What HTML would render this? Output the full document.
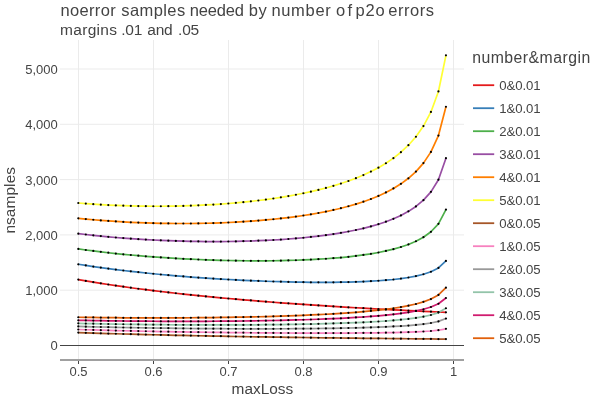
<!DOCTYPE html><html><head><meta charset="utf-8"><title>plot</title><style>html,body{margin:0;padding:0;background:#fff}svg{display:block;will-change:transform}text{font-family:"Liberation Sans", sans-serif;fill:#444}</style></head><body>
<svg width="600" height="400" viewBox="0 0 600 400">
<rect width="600" height="400" fill="#fff"/>
<g stroke="#ebebeb" stroke-width="1">
<line x1="78.5" y1="40" x2="78.5" y2="360"/>
<line x1="153.5" y1="40" x2="153.5" y2="360"/>
<line x1="228.5" y1="40" x2="228.5" y2="360"/>
<line x1="303.5" y1="40" x2="303.5" y2="360"/>
<line x1="378.5" y1="40" x2="378.5" y2="360"/>
<line x1="453.5" y1="40" x2="453.5" y2="360"/>
<line x1="60" y1="290.2" x2="464" y2="290.2"/>
<line x1="60" y1="234.9" x2="464" y2="234.9"/>
<line x1="60" y1="179.60000000000002" x2="464" y2="179.60000000000002"/>
<line x1="60" y1="124.30000000000001" x2="464" y2="124.30000000000001"/>
<line x1="60" y1="69.0" x2="464" y2="69.0"/>
</g>
<line x1="60" y1="345.5" x2="464" y2="345.5" stroke="#444" stroke-width="1"/>
<g fill="none" stroke-width="1.7" stroke-linejoin="round">
<path d="M78.30,279.59L85.80,280.89L93.31,282.14L100.81,283.34L108.31,284.50L115.82,285.61L123.32,286.69L130.82,287.72L138.32,288.73L145.83,289.69L153.33,290.63L160.83,291.53L168.34,292.41L175.84,293.26L183.34,294.08L190.85,294.87L198.35,295.64L205.85,296.39L213.35,297.12L220.86,297.82L228.36,298.51L235.86,299.18L243.37,299.82L250.87,300.45L258.37,301.07L265.88,301.66L273.38,302.24L280.88,302.81L288.38,303.36L295.89,303.90L303.39,304.42L310.89,304.93L318.40,305.43L325.90,305.92L333.40,306.39L340.91,306.86L348.41,307.31L355.91,307.75L363.41,308.18L370.92,308.61L378.42,309.02L385.92,309.42L393.43,309.82L400.93,310.21L408.43,310.58L415.93,310.95L423.44,311.32L430.94,311.67L438.44,312.02L445.95,312.36" stroke="#E41A1C"/>
<path d="M78.30,264.28L85.80,265.44L93.31,266.54L100.81,267.60L108.31,268.61L115.82,269.57L123.32,270.49L130.82,271.36L138.32,272.20L145.83,272.99L153.33,273.75L160.83,274.48L168.34,275.16L175.84,275.82L183.34,276.44L190.85,277.03L198.35,277.58L205.85,278.11L213.35,278.60L220.86,279.07L228.36,279.50L235.86,279.91L243.37,280.29L250.87,280.63L258.37,280.95L265.88,281.24L273.38,281.49L280.88,281.72L288.38,281.91L295.89,282.07L303.39,282.19L310.89,282.28L318.40,282.32L325.90,282.33L333.40,282.28L340.91,282.19L348.41,282.05L355.91,281.84L363.41,281.56L370.92,281.20L378.42,280.75L385.92,280.18L393.43,279.48L400.93,278.61L408.43,277.51L415.93,276.11L423.44,274.27L430.94,271.73L438.44,267.91L445.95,260.96" stroke="#377EB8"/>
<path d="M78.30,248.96L85.80,249.98L93.31,250.95L100.81,251.86L108.31,252.72L115.82,253.53L123.32,254.29L130.82,255.00L138.32,255.67L145.83,256.30L153.33,256.88L160.83,257.42L168.34,257.92L175.84,258.38L183.34,258.80L190.85,259.18L198.35,259.52L205.85,259.82L213.35,260.09L220.86,260.31L228.36,260.50L235.86,260.65L243.37,260.75L250.87,260.81L258.37,260.84L265.88,260.81L273.38,260.74L280.88,260.63L288.38,260.46L295.89,260.24L303.39,259.96L310.89,259.62L318.40,259.21L325.90,258.74L333.40,258.18L340.91,257.53L348.41,256.78L355.91,255.92L363.41,254.94L370.92,253.80L378.42,252.48L385.92,250.94L393.43,249.15L400.93,247.01L408.43,244.44L415.93,241.26L423.44,237.22L430.94,231.78L438.44,223.80L445.95,209.56" stroke="#4DAF4A"/>
<path d="M78.30,233.64L85.80,234.52L93.31,235.35L100.81,236.12L108.31,236.83L115.82,237.48L123.32,238.09L130.82,238.64L138.32,239.14L145.83,239.60L153.33,240.00L160.83,240.36L168.34,240.67L175.84,240.94L183.34,241.16L190.85,241.33L198.35,241.46L205.85,241.54L213.35,241.57L220.86,241.56L228.36,241.49L235.86,241.38L243.37,241.21L250.87,241.00L258.37,240.72L265.88,240.39L273.38,240.00L280.88,239.54L288.38,239.01L295.89,238.41L303.39,237.73L310.89,236.97L318.40,236.11L325.90,235.15L333.40,234.07L340.91,232.87L348.41,231.52L355.91,230.01L363.41,228.31L370.92,226.39L378.42,224.21L385.92,221.71L393.43,218.81L400.93,215.42L408.43,211.37L415.93,206.42L423.44,200.17L430.94,191.84L438.44,179.69L445.95,158.16" stroke="#984EA3"/>
<path d="M78.30,218.32L85.80,219.07L93.31,219.75L100.81,220.38L108.31,220.94L115.82,221.44L123.32,221.89L130.82,222.28L138.32,222.62L145.83,222.90L153.33,223.13L160.83,223.31L168.34,223.43L175.84,223.50L183.34,223.52L190.85,223.48L198.35,223.40L205.85,223.25L213.35,223.06L220.86,222.80L228.36,222.49L235.86,222.11L243.37,221.68L250.87,221.18L258.37,220.61L265.88,219.96L273.38,219.25L280.88,218.45L288.38,217.56L295.89,216.58L303.39,215.50L310.89,214.31L318.40,213.00L325.90,211.56L333.40,209.96L340.91,208.21L348.41,206.26L355.91,204.10L363.41,201.69L370.92,198.99L378.42,195.94L385.92,192.47L393.43,188.47L400.93,183.82L408.43,178.29L415.93,171.57L423.44,163.12L430.94,151.89L438.44,135.58L445.95,106.76" stroke="#FF7F00"/>
<path d="M78.30,203.00L85.80,203.61L93.31,204.16L100.81,204.63L108.31,205.05L115.82,205.40L123.32,205.69L130.82,205.92L138.32,206.09L145.83,206.20L153.33,206.25L160.83,206.25L168.34,206.18L175.84,206.06L183.34,205.88L190.85,205.64L198.35,205.33L205.85,204.97L213.35,204.54L220.86,204.05L228.36,203.48L235.86,202.85L243.37,202.14L250.87,201.36L258.37,200.49L265.88,199.54L273.38,198.50L280.88,197.36L288.38,196.11L295.89,194.75L303.39,193.27L310.89,191.65L318.40,189.89L325.90,187.96L333.40,185.86L340.91,183.54L348.41,181.00L355.91,178.19L363.41,175.06L370.92,171.58L378.42,167.67L385.92,163.23L393.43,158.14L400.93,152.22L408.43,145.22L415.93,136.73L423.44,126.06L430.94,111.94L438.44,91.47L445.95,55.36" stroke="#FFFF33"/>
<path d="M78.30,332.56L85.80,332.82L93.31,333.07L100.81,333.31L108.31,333.54L115.82,333.76L123.32,333.98L130.82,334.18L138.32,334.39L145.83,334.58L153.33,334.77L160.83,334.95L168.34,335.12L175.84,335.29L183.34,335.46L190.85,335.61L198.35,335.77L205.85,335.92L213.35,336.06L220.86,336.20L228.36,336.34L235.86,336.48L243.37,336.60L250.87,336.73L258.37,336.85L265.88,336.97L273.38,337.09L280.88,337.20L288.38,337.31L295.89,337.42L303.39,337.52L310.89,337.63L318.40,337.73L325.90,337.82L333.40,337.92L340.91,338.01L348.41,338.10L355.91,338.19L363.41,338.28L370.92,338.36L378.42,338.44L385.92,338.52L393.43,338.60L400.93,338.68L408.43,338.76L415.93,338.83L423.44,338.90L430.94,338.97L438.44,339.04L445.95,339.11" stroke="#A65628"/>
<path d="M78.30,329.50L85.80,329.73L93.31,329.95L100.81,330.16L108.31,330.36L115.82,330.55L123.32,330.74L130.82,330.91L138.32,331.08L145.83,331.24L153.33,331.39L160.83,331.54L168.34,331.67L175.84,331.80L183.34,331.93L190.85,332.05L198.35,332.16L205.85,332.26L213.35,332.36L220.86,332.45L228.36,332.54L235.86,332.62L243.37,332.70L250.87,332.77L258.37,332.83L265.88,332.89L273.38,332.94L280.88,332.98L288.38,333.02L295.89,333.05L303.39,333.08L310.89,333.10L318.40,333.10L325.90,333.11L333.40,333.10L340.91,333.08L348.41,333.05L355.91,333.01L363.41,332.95L370.92,332.88L378.42,332.79L385.92,332.68L393.43,332.54L400.93,332.36L408.43,332.14L415.93,331.86L423.44,331.49L430.94,330.99L438.44,330.22L445.95,328.83" stroke="#F781BF"/>
<path d="M78.30,326.43L85.80,326.64L93.31,326.83L100.81,327.01L108.31,327.18L115.82,327.35L123.32,327.50L130.82,327.64L138.32,327.77L145.83,327.90L153.33,328.02L160.83,328.12L168.34,328.22L175.84,328.32L183.34,328.40L190.85,328.48L198.35,328.54L205.85,328.60L213.35,328.66L220.86,328.70L228.36,328.74L235.86,328.77L243.37,328.79L250.87,328.80L258.37,328.81L265.88,328.80L273.38,328.79L280.88,328.77L288.38,328.73L295.89,328.69L303.39,328.63L310.89,328.56L318.40,328.48L325.90,328.39L333.40,328.28L340.91,328.15L348.41,328.00L355.91,327.82L363.41,327.63L370.92,327.40L378.42,327.14L385.92,326.83L393.43,326.47L400.93,326.04L408.43,325.53L415.93,324.89L423.44,324.08L430.94,323.00L438.44,321.40L445.95,318.55" stroke="#999999"/>
<path d="M78.30,323.37L85.80,323.54L93.31,323.71L100.81,323.86L108.31,324.01L115.82,324.14L123.32,324.26L130.82,324.37L138.32,324.47L145.83,324.56L153.33,324.64L160.83,324.71L168.34,324.77L175.84,324.83L183.34,324.87L190.85,324.91L198.35,324.93L205.85,324.95L213.35,324.95L220.86,324.95L228.36,324.94L235.86,324.92L243.37,324.88L250.87,324.84L258.37,324.78L265.88,324.72L273.38,324.64L280.88,324.55L288.38,324.44L295.89,324.32L303.39,324.19L310.89,324.03L318.40,323.86L325.90,323.67L333.40,323.45L340.91,323.21L348.41,322.94L355.91,322.64L363.41,322.30L370.92,321.92L378.42,321.48L385.92,320.98L393.43,320.40L400.93,319.72L408.43,318.91L415.93,317.92L423.44,316.67L430.94,315.01L438.44,312.58L445.95,308.27" stroke="#93C4A9"/>
<path d="M78.30,320.30L85.80,320.45L93.31,320.59L100.81,320.72L108.31,320.83L115.82,320.93L123.32,321.02L130.82,321.10L138.32,321.16L145.83,321.22L153.33,321.27L160.83,321.30L168.34,321.33L175.84,321.34L183.34,321.34L190.85,321.34L198.35,321.32L205.85,321.29L213.35,321.25L220.86,321.20L228.36,321.14L235.86,321.06L243.37,320.98L250.87,320.88L258.37,320.76L265.88,320.63L273.38,320.49L280.88,320.33L288.38,320.15L295.89,319.96L303.39,319.74L310.89,319.50L318.40,319.24L325.90,318.95L333.40,318.63L340.91,318.28L348.41,317.89L355.91,317.46L363.41,316.98L370.92,316.44L378.42,315.83L385.92,315.13L393.43,314.33L400.93,313.40L408.43,312.30L415.93,310.95L423.44,309.26L430.94,307.02L438.44,303.76L445.95,297.99" stroke="#D01C6F"/>
<path d="M78.30,317.24L85.80,317.36L93.31,317.47L100.81,317.57L108.31,317.65L115.82,317.72L123.32,317.78L130.82,317.82L138.32,317.86L145.83,317.88L153.33,317.89L160.83,317.89L168.34,317.88L175.84,317.85L183.34,317.82L190.85,317.77L198.35,317.71L205.85,317.63L213.35,317.55L220.86,317.45L228.36,317.34L235.86,317.21L243.37,317.07L250.87,316.91L258.37,316.74L265.88,316.55L273.38,316.34L280.88,316.11L288.38,315.86L295.89,315.59L303.39,315.29L310.89,314.97L318.40,314.62L325.90,314.23L333.40,313.81L340.91,313.35L348.41,312.84L355.91,312.28L363.41,311.65L370.92,310.96L378.42,310.17L385.92,309.29L393.43,308.27L400.93,307.08L408.43,305.68L415.93,303.99L423.44,301.85L430.94,299.03L438.44,294.93L445.95,287.71" stroke="#E1600B"/>
</g>
<g fill="#000">
<circle cx="78.30" cy="279.59" r="1.1"/>
<circle cx="85.80" cy="280.89" r="1.1"/>
<circle cx="93.31" cy="282.14" r="1.1"/>
<circle cx="100.81" cy="283.34" r="1.1"/>
<circle cx="108.31" cy="284.50" r="1.1"/>
<circle cx="115.82" cy="285.61" r="1.1"/>
<circle cx="123.32" cy="286.69" r="1.1"/>
<circle cx="130.82" cy="287.72" r="1.1"/>
<circle cx="138.32" cy="288.73" r="1.1"/>
<circle cx="145.83" cy="289.69" r="1.1"/>
<circle cx="153.33" cy="290.63" r="1.1"/>
<circle cx="160.83" cy="291.53" r="1.1"/>
<circle cx="168.34" cy="292.41" r="1.1"/>
<circle cx="175.84" cy="293.26" r="1.1"/>
<circle cx="183.34" cy="294.08" r="1.1"/>
<circle cx="190.85" cy="294.87" r="1.1"/>
<circle cx="198.35" cy="295.64" r="1.1"/>
<circle cx="205.85" cy="296.39" r="1.1"/>
<circle cx="213.35" cy="297.12" r="1.1"/>
<circle cx="220.86" cy="297.82" r="1.1"/>
<circle cx="228.36" cy="298.51" r="1.1"/>
<circle cx="235.86" cy="299.18" r="1.1"/>
<circle cx="243.37" cy="299.82" r="1.1"/>
<circle cx="250.87" cy="300.45" r="1.1"/>
<circle cx="258.37" cy="301.07" r="1.1"/>
<circle cx="265.88" cy="301.66" r="1.1"/>
<circle cx="273.38" cy="302.24" r="1.1"/>
<circle cx="280.88" cy="302.81" r="1.1"/>
<circle cx="288.38" cy="303.36" r="1.1"/>
<circle cx="295.89" cy="303.90" r="1.1"/>
<circle cx="303.39" cy="304.42" r="1.1"/>
<circle cx="310.89" cy="304.93" r="1.1"/>
<circle cx="318.40" cy="305.43" r="1.1"/>
<circle cx="325.90" cy="305.92" r="1.1"/>
<circle cx="333.40" cy="306.39" r="1.1"/>
<circle cx="340.91" cy="306.86" r="1.1"/>
<circle cx="348.41" cy="307.31" r="1.1"/>
<circle cx="355.91" cy="307.75" r="1.1"/>
<circle cx="363.41" cy="308.18" r="1.1"/>
<circle cx="370.92" cy="308.61" r="1.1"/>
<circle cx="378.42" cy="309.02" r="1.1"/>
<circle cx="385.92" cy="309.42" r="1.1"/>
<circle cx="393.43" cy="309.82" r="1.1"/>
<circle cx="400.93" cy="310.21" r="1.1"/>
<circle cx="408.43" cy="310.58" r="1.1"/>
<circle cx="415.93" cy="310.95" r="1.1"/>
<circle cx="423.44" cy="311.32" r="1.1"/>
<circle cx="430.94" cy="311.67" r="1.1"/>
<circle cx="438.44" cy="312.02" r="1.1"/>
<circle cx="445.95" cy="312.36" r="1.1"/>
<circle cx="78.30" cy="264.28" r="1.1"/>
<circle cx="85.80" cy="265.44" r="1.1"/>
<circle cx="93.31" cy="266.54" r="1.1"/>
<circle cx="100.81" cy="267.60" r="1.1"/>
<circle cx="108.31" cy="268.61" r="1.1"/>
<circle cx="115.82" cy="269.57" r="1.1"/>
<circle cx="123.32" cy="270.49" r="1.1"/>
<circle cx="130.82" cy="271.36" r="1.1"/>
<circle cx="138.32" cy="272.20" r="1.1"/>
<circle cx="145.83" cy="272.99" r="1.1"/>
<circle cx="153.33" cy="273.75" r="1.1"/>
<circle cx="160.83" cy="274.48" r="1.1"/>
<circle cx="168.34" cy="275.16" r="1.1"/>
<circle cx="175.84" cy="275.82" r="1.1"/>
<circle cx="183.34" cy="276.44" r="1.1"/>
<circle cx="190.85" cy="277.03" r="1.1"/>
<circle cx="198.35" cy="277.58" r="1.1"/>
<circle cx="205.85" cy="278.11" r="1.1"/>
<circle cx="213.35" cy="278.60" r="1.1"/>
<circle cx="220.86" cy="279.07" r="1.1"/>
<circle cx="228.36" cy="279.50" r="1.1"/>
<circle cx="235.86" cy="279.91" r="1.1"/>
<circle cx="243.37" cy="280.29" r="1.1"/>
<circle cx="250.87" cy="280.63" r="1.1"/>
<circle cx="258.37" cy="280.95" r="1.1"/>
<circle cx="265.88" cy="281.24" r="1.1"/>
<circle cx="273.38" cy="281.49" r="1.1"/>
<circle cx="280.88" cy="281.72" r="1.1"/>
<circle cx="288.38" cy="281.91" r="1.1"/>
<circle cx="295.89" cy="282.07" r="1.1"/>
<circle cx="303.39" cy="282.19" r="1.1"/>
<circle cx="310.89" cy="282.28" r="1.1"/>
<circle cx="318.40" cy="282.32" r="1.1"/>
<circle cx="325.90" cy="282.33" r="1.1"/>
<circle cx="333.40" cy="282.28" r="1.1"/>
<circle cx="340.91" cy="282.19" r="1.1"/>
<circle cx="348.41" cy="282.05" r="1.1"/>
<circle cx="355.91" cy="281.84" r="1.1"/>
<circle cx="363.41" cy="281.56" r="1.1"/>
<circle cx="370.92" cy="281.20" r="1.1"/>
<circle cx="378.42" cy="280.75" r="1.1"/>
<circle cx="385.92" cy="280.18" r="1.1"/>
<circle cx="393.43" cy="279.48" r="1.1"/>
<circle cx="400.93" cy="278.61" r="1.1"/>
<circle cx="408.43" cy="277.51" r="1.1"/>
<circle cx="415.93" cy="276.11" r="1.1"/>
<circle cx="423.44" cy="274.27" r="1.1"/>
<circle cx="430.94" cy="271.73" r="1.1"/>
<circle cx="438.44" cy="267.91" r="1.1"/>
<circle cx="445.95" cy="260.96" r="1.1"/>
<circle cx="78.30" cy="248.96" r="1.1"/>
<circle cx="85.80" cy="249.98" r="1.1"/>
<circle cx="93.31" cy="250.95" r="1.1"/>
<circle cx="100.81" cy="251.86" r="1.1"/>
<circle cx="108.31" cy="252.72" r="1.1"/>
<circle cx="115.82" cy="253.53" r="1.1"/>
<circle cx="123.32" cy="254.29" r="1.1"/>
<circle cx="130.82" cy="255.00" r="1.1"/>
<circle cx="138.32" cy="255.67" r="1.1"/>
<circle cx="145.83" cy="256.30" r="1.1"/>
<circle cx="153.33" cy="256.88" r="1.1"/>
<circle cx="160.83" cy="257.42" r="1.1"/>
<circle cx="168.34" cy="257.92" r="1.1"/>
<circle cx="175.84" cy="258.38" r="1.1"/>
<circle cx="183.34" cy="258.80" r="1.1"/>
<circle cx="190.85" cy="259.18" r="1.1"/>
<circle cx="198.35" cy="259.52" r="1.1"/>
<circle cx="205.85" cy="259.82" r="1.1"/>
<circle cx="213.35" cy="260.09" r="1.1"/>
<circle cx="220.86" cy="260.31" r="1.1"/>
<circle cx="228.36" cy="260.50" r="1.1"/>
<circle cx="235.86" cy="260.65" r="1.1"/>
<circle cx="243.37" cy="260.75" r="1.1"/>
<circle cx="250.87" cy="260.81" r="1.1"/>
<circle cx="258.37" cy="260.84" r="1.1"/>
<circle cx="265.88" cy="260.81" r="1.1"/>
<circle cx="273.38" cy="260.74" r="1.1"/>
<circle cx="280.88" cy="260.63" r="1.1"/>
<circle cx="288.38" cy="260.46" r="1.1"/>
<circle cx="295.89" cy="260.24" r="1.1"/>
<circle cx="303.39" cy="259.96" r="1.1"/>
<circle cx="310.89" cy="259.62" r="1.1"/>
<circle cx="318.40" cy="259.21" r="1.1"/>
<circle cx="325.90" cy="258.74" r="1.1"/>
<circle cx="333.40" cy="258.18" r="1.1"/>
<circle cx="340.91" cy="257.53" r="1.1"/>
<circle cx="348.41" cy="256.78" r="1.1"/>
<circle cx="355.91" cy="255.92" r="1.1"/>
<circle cx="363.41" cy="254.94" r="1.1"/>
<circle cx="370.92" cy="253.80" r="1.1"/>
<circle cx="378.42" cy="252.48" r="1.1"/>
<circle cx="385.92" cy="250.94" r="1.1"/>
<circle cx="393.43" cy="249.15" r="1.1"/>
<circle cx="400.93" cy="247.01" r="1.1"/>
<circle cx="408.43" cy="244.44" r="1.1"/>
<circle cx="415.93" cy="241.26" r="1.1"/>
<circle cx="423.44" cy="237.22" r="1.1"/>
<circle cx="430.94" cy="231.78" r="1.1"/>
<circle cx="438.44" cy="223.80" r="1.1"/>
<circle cx="445.95" cy="209.56" r="1.1"/>
<circle cx="78.30" cy="233.64" r="1.1"/>
<circle cx="85.80" cy="234.52" r="1.1"/>
<circle cx="93.31" cy="235.35" r="1.1"/>
<circle cx="100.81" cy="236.12" r="1.1"/>
<circle cx="108.31" cy="236.83" r="1.1"/>
<circle cx="115.82" cy="237.48" r="1.1"/>
<circle cx="123.32" cy="238.09" r="1.1"/>
<circle cx="130.82" cy="238.64" r="1.1"/>
<circle cx="138.32" cy="239.14" r="1.1"/>
<circle cx="145.83" cy="239.60" r="1.1"/>
<circle cx="153.33" cy="240.00" r="1.1"/>
<circle cx="160.83" cy="240.36" r="1.1"/>
<circle cx="168.34" cy="240.67" r="1.1"/>
<circle cx="175.84" cy="240.94" r="1.1"/>
<circle cx="183.34" cy="241.16" r="1.1"/>
<circle cx="190.85" cy="241.33" r="1.1"/>
<circle cx="198.35" cy="241.46" r="1.1"/>
<circle cx="205.85" cy="241.54" r="1.1"/>
<circle cx="213.35" cy="241.57" r="1.1"/>
<circle cx="220.86" cy="241.56" r="1.1"/>
<circle cx="228.36" cy="241.49" r="1.1"/>
<circle cx="235.86" cy="241.38" r="1.1"/>
<circle cx="243.37" cy="241.21" r="1.1"/>
<circle cx="250.87" cy="241.00" r="1.1"/>
<circle cx="258.37" cy="240.72" r="1.1"/>
<circle cx="265.88" cy="240.39" r="1.1"/>
<circle cx="273.38" cy="240.00" r="1.1"/>
<circle cx="280.88" cy="239.54" r="1.1"/>
<circle cx="288.38" cy="239.01" r="1.1"/>
<circle cx="295.89" cy="238.41" r="1.1"/>
<circle cx="303.39" cy="237.73" r="1.1"/>
<circle cx="310.89" cy="236.97" r="1.1"/>
<circle cx="318.40" cy="236.11" r="1.1"/>
<circle cx="325.90" cy="235.15" r="1.1"/>
<circle cx="333.40" cy="234.07" r="1.1"/>
<circle cx="340.91" cy="232.87" r="1.1"/>
<circle cx="348.41" cy="231.52" r="1.1"/>
<circle cx="355.91" cy="230.01" r="1.1"/>
<circle cx="363.41" cy="228.31" r="1.1"/>
<circle cx="370.92" cy="226.39" r="1.1"/>
<circle cx="378.42" cy="224.21" r="1.1"/>
<circle cx="385.92" cy="221.71" r="1.1"/>
<circle cx="393.43" cy="218.81" r="1.1"/>
<circle cx="400.93" cy="215.42" r="1.1"/>
<circle cx="408.43" cy="211.37" r="1.1"/>
<circle cx="415.93" cy="206.42" r="1.1"/>
<circle cx="423.44" cy="200.17" r="1.1"/>
<circle cx="430.94" cy="191.84" r="1.1"/>
<circle cx="438.44" cy="179.69" r="1.1"/>
<circle cx="445.95" cy="158.16" r="1.1"/>
<circle cx="78.30" cy="218.32" r="1.1"/>
<circle cx="85.80" cy="219.07" r="1.1"/>
<circle cx="93.31" cy="219.75" r="1.1"/>
<circle cx="100.81" cy="220.38" r="1.1"/>
<circle cx="108.31" cy="220.94" r="1.1"/>
<circle cx="115.82" cy="221.44" r="1.1"/>
<circle cx="123.32" cy="221.89" r="1.1"/>
<circle cx="130.82" cy="222.28" r="1.1"/>
<circle cx="138.32" cy="222.62" r="1.1"/>
<circle cx="145.83" cy="222.90" r="1.1"/>
<circle cx="153.33" cy="223.13" r="1.1"/>
<circle cx="160.83" cy="223.31" r="1.1"/>
<circle cx="168.34" cy="223.43" r="1.1"/>
<circle cx="175.84" cy="223.50" r="1.1"/>
<circle cx="183.34" cy="223.52" r="1.1"/>
<circle cx="190.85" cy="223.48" r="1.1"/>
<circle cx="198.35" cy="223.40" r="1.1"/>
<circle cx="205.85" cy="223.25" r="1.1"/>
<circle cx="213.35" cy="223.06" r="1.1"/>
<circle cx="220.86" cy="222.80" r="1.1"/>
<circle cx="228.36" cy="222.49" r="1.1"/>
<circle cx="235.86" cy="222.11" r="1.1"/>
<circle cx="243.37" cy="221.68" r="1.1"/>
<circle cx="250.87" cy="221.18" r="1.1"/>
<circle cx="258.37" cy="220.61" r="1.1"/>
<circle cx="265.88" cy="219.96" r="1.1"/>
<circle cx="273.38" cy="219.25" r="1.1"/>
<circle cx="280.88" cy="218.45" r="1.1"/>
<circle cx="288.38" cy="217.56" r="1.1"/>
<circle cx="295.89" cy="216.58" r="1.1"/>
<circle cx="303.39" cy="215.50" r="1.1"/>
<circle cx="310.89" cy="214.31" r="1.1"/>
<circle cx="318.40" cy="213.00" r="1.1"/>
<circle cx="325.90" cy="211.56" r="1.1"/>
<circle cx="333.40" cy="209.96" r="1.1"/>
<circle cx="340.91" cy="208.21" r="1.1"/>
<circle cx="348.41" cy="206.26" r="1.1"/>
<circle cx="355.91" cy="204.10" r="1.1"/>
<circle cx="363.41" cy="201.69" r="1.1"/>
<circle cx="370.92" cy="198.99" r="1.1"/>
<circle cx="378.42" cy="195.94" r="1.1"/>
<circle cx="385.92" cy="192.47" r="1.1"/>
<circle cx="393.43" cy="188.47" r="1.1"/>
<circle cx="400.93" cy="183.82" r="1.1"/>
<circle cx="408.43" cy="178.29" r="1.1"/>
<circle cx="415.93" cy="171.57" r="1.1"/>
<circle cx="423.44" cy="163.12" r="1.1"/>
<circle cx="430.94" cy="151.89" r="1.1"/>
<circle cx="438.44" cy="135.58" r="1.1"/>
<circle cx="445.95" cy="106.76" r="1.1"/>
<circle cx="78.30" cy="203.00" r="1.1"/>
<circle cx="85.80" cy="203.61" r="1.1"/>
<circle cx="93.31" cy="204.16" r="1.1"/>
<circle cx="100.81" cy="204.63" r="1.1"/>
<circle cx="108.31" cy="205.05" r="1.1"/>
<circle cx="115.82" cy="205.40" r="1.1"/>
<circle cx="123.32" cy="205.69" r="1.1"/>
<circle cx="130.82" cy="205.92" r="1.1"/>
<circle cx="138.32" cy="206.09" r="1.1"/>
<circle cx="145.83" cy="206.20" r="1.1"/>
<circle cx="153.33" cy="206.25" r="1.1"/>
<circle cx="160.83" cy="206.25" r="1.1"/>
<circle cx="168.34" cy="206.18" r="1.1"/>
<circle cx="175.84" cy="206.06" r="1.1"/>
<circle cx="183.34" cy="205.88" r="1.1"/>
<circle cx="190.85" cy="205.64" r="1.1"/>
<circle cx="198.35" cy="205.33" r="1.1"/>
<circle cx="205.85" cy="204.97" r="1.1"/>
<circle cx="213.35" cy="204.54" r="1.1"/>
<circle cx="220.86" cy="204.05" r="1.1"/>
<circle cx="228.36" cy="203.48" r="1.1"/>
<circle cx="235.86" cy="202.85" r="1.1"/>
<circle cx="243.37" cy="202.14" r="1.1"/>
<circle cx="250.87" cy="201.36" r="1.1"/>
<circle cx="258.37" cy="200.49" r="1.1"/>
<circle cx="265.88" cy="199.54" r="1.1"/>
<circle cx="273.38" cy="198.50" r="1.1"/>
<circle cx="280.88" cy="197.36" r="1.1"/>
<circle cx="288.38" cy="196.11" r="1.1"/>
<circle cx="295.89" cy="194.75" r="1.1"/>
<circle cx="303.39" cy="193.27" r="1.1"/>
<circle cx="310.89" cy="191.65" r="1.1"/>
<circle cx="318.40" cy="189.89" r="1.1"/>
<circle cx="325.90" cy="187.96" r="1.1"/>
<circle cx="333.40" cy="185.86" r="1.1"/>
<circle cx="340.91" cy="183.54" r="1.1"/>
<circle cx="348.41" cy="181.00" r="1.1"/>
<circle cx="355.91" cy="178.19" r="1.1"/>
<circle cx="363.41" cy="175.06" r="1.1"/>
<circle cx="370.92" cy="171.58" r="1.1"/>
<circle cx="378.42" cy="167.67" r="1.1"/>
<circle cx="385.92" cy="163.23" r="1.1"/>
<circle cx="393.43" cy="158.14" r="1.1"/>
<circle cx="400.93" cy="152.22" r="1.1"/>
<circle cx="408.43" cy="145.22" r="1.1"/>
<circle cx="415.93" cy="136.73" r="1.1"/>
<circle cx="423.44" cy="126.06" r="1.1"/>
<circle cx="430.94" cy="111.94" r="1.1"/>
<circle cx="438.44" cy="91.47" r="1.1"/>
<circle cx="445.95" cy="55.36" r="1.1"/>
<circle cx="78.30" cy="332.56" r="1.1"/>
<circle cx="85.80" cy="332.82" r="1.1"/>
<circle cx="93.31" cy="333.07" r="1.1"/>
<circle cx="100.81" cy="333.31" r="1.1"/>
<circle cx="108.31" cy="333.54" r="1.1"/>
<circle cx="115.82" cy="333.76" r="1.1"/>
<circle cx="123.32" cy="333.98" r="1.1"/>
<circle cx="130.82" cy="334.18" r="1.1"/>
<circle cx="138.32" cy="334.39" r="1.1"/>
<circle cx="145.83" cy="334.58" r="1.1"/>
<circle cx="153.33" cy="334.77" r="1.1"/>
<circle cx="160.83" cy="334.95" r="1.1"/>
<circle cx="168.34" cy="335.12" r="1.1"/>
<circle cx="175.84" cy="335.29" r="1.1"/>
<circle cx="183.34" cy="335.46" r="1.1"/>
<circle cx="190.85" cy="335.61" r="1.1"/>
<circle cx="198.35" cy="335.77" r="1.1"/>
<circle cx="205.85" cy="335.92" r="1.1"/>
<circle cx="213.35" cy="336.06" r="1.1"/>
<circle cx="220.86" cy="336.20" r="1.1"/>
<circle cx="228.36" cy="336.34" r="1.1"/>
<circle cx="235.86" cy="336.48" r="1.1"/>
<circle cx="243.37" cy="336.60" r="1.1"/>
<circle cx="250.87" cy="336.73" r="1.1"/>
<circle cx="258.37" cy="336.85" r="1.1"/>
<circle cx="265.88" cy="336.97" r="1.1"/>
<circle cx="273.38" cy="337.09" r="1.1"/>
<circle cx="280.88" cy="337.20" r="1.1"/>
<circle cx="288.38" cy="337.31" r="1.1"/>
<circle cx="295.89" cy="337.42" r="1.1"/>
<circle cx="303.39" cy="337.52" r="1.1"/>
<circle cx="310.89" cy="337.63" r="1.1"/>
<circle cx="318.40" cy="337.73" r="1.1"/>
<circle cx="325.90" cy="337.82" r="1.1"/>
<circle cx="333.40" cy="337.92" r="1.1"/>
<circle cx="340.91" cy="338.01" r="1.1"/>
<circle cx="348.41" cy="338.10" r="1.1"/>
<circle cx="355.91" cy="338.19" r="1.1"/>
<circle cx="363.41" cy="338.28" r="1.1"/>
<circle cx="370.92" cy="338.36" r="1.1"/>
<circle cx="378.42" cy="338.44" r="1.1"/>
<circle cx="385.92" cy="338.52" r="1.1"/>
<circle cx="393.43" cy="338.60" r="1.1"/>
<circle cx="400.93" cy="338.68" r="1.1"/>
<circle cx="408.43" cy="338.76" r="1.1"/>
<circle cx="415.93" cy="338.83" r="1.1"/>
<circle cx="423.44" cy="338.90" r="1.1"/>
<circle cx="430.94" cy="338.97" r="1.1"/>
<circle cx="438.44" cy="339.04" r="1.1"/>
<circle cx="445.95" cy="339.11" r="1.1"/>
<circle cx="78.30" cy="329.50" r="1.1"/>
<circle cx="85.80" cy="329.73" r="1.1"/>
<circle cx="93.31" cy="329.95" r="1.1"/>
<circle cx="100.81" cy="330.16" r="1.1"/>
<circle cx="108.31" cy="330.36" r="1.1"/>
<circle cx="115.82" cy="330.55" r="1.1"/>
<circle cx="123.32" cy="330.74" r="1.1"/>
<circle cx="130.82" cy="330.91" r="1.1"/>
<circle cx="138.32" cy="331.08" r="1.1"/>
<circle cx="145.83" cy="331.24" r="1.1"/>
<circle cx="153.33" cy="331.39" r="1.1"/>
<circle cx="160.83" cy="331.54" r="1.1"/>
<circle cx="168.34" cy="331.67" r="1.1"/>
<circle cx="175.84" cy="331.80" r="1.1"/>
<circle cx="183.34" cy="331.93" r="1.1"/>
<circle cx="190.85" cy="332.05" r="1.1"/>
<circle cx="198.35" cy="332.16" r="1.1"/>
<circle cx="205.85" cy="332.26" r="1.1"/>
<circle cx="213.35" cy="332.36" r="1.1"/>
<circle cx="220.86" cy="332.45" r="1.1"/>
<circle cx="228.36" cy="332.54" r="1.1"/>
<circle cx="235.86" cy="332.62" r="1.1"/>
<circle cx="243.37" cy="332.70" r="1.1"/>
<circle cx="250.87" cy="332.77" r="1.1"/>
<circle cx="258.37" cy="332.83" r="1.1"/>
<circle cx="265.88" cy="332.89" r="1.1"/>
<circle cx="273.38" cy="332.94" r="1.1"/>
<circle cx="280.88" cy="332.98" r="1.1"/>
<circle cx="288.38" cy="333.02" r="1.1"/>
<circle cx="295.89" cy="333.05" r="1.1"/>
<circle cx="303.39" cy="333.08" r="1.1"/>
<circle cx="310.89" cy="333.10" r="1.1"/>
<circle cx="318.40" cy="333.10" r="1.1"/>
<circle cx="325.90" cy="333.11" r="1.1"/>
<circle cx="333.40" cy="333.10" r="1.1"/>
<circle cx="340.91" cy="333.08" r="1.1"/>
<circle cx="348.41" cy="333.05" r="1.1"/>
<circle cx="355.91" cy="333.01" r="1.1"/>
<circle cx="363.41" cy="332.95" r="1.1"/>
<circle cx="370.92" cy="332.88" r="1.1"/>
<circle cx="378.42" cy="332.79" r="1.1"/>
<circle cx="385.92" cy="332.68" r="1.1"/>
<circle cx="393.43" cy="332.54" r="1.1"/>
<circle cx="400.93" cy="332.36" r="1.1"/>
<circle cx="408.43" cy="332.14" r="1.1"/>
<circle cx="415.93" cy="331.86" r="1.1"/>
<circle cx="423.44" cy="331.49" r="1.1"/>
<circle cx="430.94" cy="330.99" r="1.1"/>
<circle cx="438.44" cy="330.22" r="1.1"/>
<circle cx="445.95" cy="328.83" r="1.1"/>
<circle cx="78.30" cy="326.43" r="1.1"/>
<circle cx="85.80" cy="326.64" r="1.1"/>
<circle cx="93.31" cy="326.83" r="1.1"/>
<circle cx="100.81" cy="327.01" r="1.1"/>
<circle cx="108.31" cy="327.18" r="1.1"/>
<circle cx="115.82" cy="327.35" r="1.1"/>
<circle cx="123.32" cy="327.50" r="1.1"/>
<circle cx="130.82" cy="327.64" r="1.1"/>
<circle cx="138.32" cy="327.77" r="1.1"/>
<circle cx="145.83" cy="327.90" r="1.1"/>
<circle cx="153.33" cy="328.02" r="1.1"/>
<circle cx="160.83" cy="328.12" r="1.1"/>
<circle cx="168.34" cy="328.22" r="1.1"/>
<circle cx="175.84" cy="328.32" r="1.1"/>
<circle cx="183.34" cy="328.40" r="1.1"/>
<circle cx="190.85" cy="328.48" r="1.1"/>
<circle cx="198.35" cy="328.54" r="1.1"/>
<circle cx="205.85" cy="328.60" r="1.1"/>
<circle cx="213.35" cy="328.66" r="1.1"/>
<circle cx="220.86" cy="328.70" r="1.1"/>
<circle cx="228.36" cy="328.74" r="1.1"/>
<circle cx="235.86" cy="328.77" r="1.1"/>
<circle cx="243.37" cy="328.79" r="1.1"/>
<circle cx="250.87" cy="328.80" r="1.1"/>
<circle cx="258.37" cy="328.81" r="1.1"/>
<circle cx="265.88" cy="328.80" r="1.1"/>
<circle cx="273.38" cy="328.79" r="1.1"/>
<circle cx="280.88" cy="328.77" r="1.1"/>
<circle cx="288.38" cy="328.73" r="1.1"/>
<circle cx="295.89" cy="328.69" r="1.1"/>
<circle cx="303.39" cy="328.63" r="1.1"/>
<circle cx="310.89" cy="328.56" r="1.1"/>
<circle cx="318.40" cy="328.48" r="1.1"/>
<circle cx="325.90" cy="328.39" r="1.1"/>
<circle cx="333.40" cy="328.28" r="1.1"/>
<circle cx="340.91" cy="328.15" r="1.1"/>
<circle cx="348.41" cy="328.00" r="1.1"/>
<circle cx="355.91" cy="327.82" r="1.1"/>
<circle cx="363.41" cy="327.63" r="1.1"/>
<circle cx="370.92" cy="327.40" r="1.1"/>
<circle cx="378.42" cy="327.14" r="1.1"/>
<circle cx="385.92" cy="326.83" r="1.1"/>
<circle cx="393.43" cy="326.47" r="1.1"/>
<circle cx="400.93" cy="326.04" r="1.1"/>
<circle cx="408.43" cy="325.53" r="1.1"/>
<circle cx="415.93" cy="324.89" r="1.1"/>
<circle cx="423.44" cy="324.08" r="1.1"/>
<circle cx="430.94" cy="323.00" r="1.1"/>
<circle cx="438.44" cy="321.40" r="1.1"/>
<circle cx="445.95" cy="318.55" r="1.1"/>
<circle cx="78.30" cy="323.37" r="1.1"/>
<circle cx="85.80" cy="323.54" r="1.1"/>
<circle cx="93.31" cy="323.71" r="1.1"/>
<circle cx="100.81" cy="323.86" r="1.1"/>
<circle cx="108.31" cy="324.01" r="1.1"/>
<circle cx="115.82" cy="324.14" r="1.1"/>
<circle cx="123.32" cy="324.26" r="1.1"/>
<circle cx="130.82" cy="324.37" r="1.1"/>
<circle cx="138.32" cy="324.47" r="1.1"/>
<circle cx="145.83" cy="324.56" r="1.1"/>
<circle cx="153.33" cy="324.64" r="1.1"/>
<circle cx="160.83" cy="324.71" r="1.1"/>
<circle cx="168.34" cy="324.77" r="1.1"/>
<circle cx="175.84" cy="324.83" r="1.1"/>
<circle cx="183.34" cy="324.87" r="1.1"/>
<circle cx="190.85" cy="324.91" r="1.1"/>
<circle cx="198.35" cy="324.93" r="1.1"/>
<circle cx="205.85" cy="324.95" r="1.1"/>
<circle cx="213.35" cy="324.95" r="1.1"/>
<circle cx="220.86" cy="324.95" r="1.1"/>
<circle cx="228.36" cy="324.94" r="1.1"/>
<circle cx="235.86" cy="324.92" r="1.1"/>
<circle cx="243.37" cy="324.88" r="1.1"/>
<circle cx="250.87" cy="324.84" r="1.1"/>
<circle cx="258.37" cy="324.78" r="1.1"/>
<circle cx="265.88" cy="324.72" r="1.1"/>
<circle cx="273.38" cy="324.64" r="1.1"/>
<circle cx="280.88" cy="324.55" r="1.1"/>
<circle cx="288.38" cy="324.44" r="1.1"/>
<circle cx="295.89" cy="324.32" r="1.1"/>
<circle cx="303.39" cy="324.19" r="1.1"/>
<circle cx="310.89" cy="324.03" r="1.1"/>
<circle cx="318.40" cy="323.86" r="1.1"/>
<circle cx="325.90" cy="323.67" r="1.1"/>
<circle cx="333.40" cy="323.45" r="1.1"/>
<circle cx="340.91" cy="323.21" r="1.1"/>
<circle cx="348.41" cy="322.94" r="1.1"/>
<circle cx="355.91" cy="322.64" r="1.1"/>
<circle cx="363.41" cy="322.30" r="1.1"/>
<circle cx="370.92" cy="321.92" r="1.1"/>
<circle cx="378.42" cy="321.48" r="1.1"/>
<circle cx="385.92" cy="320.98" r="1.1"/>
<circle cx="393.43" cy="320.40" r="1.1"/>
<circle cx="400.93" cy="319.72" r="1.1"/>
<circle cx="408.43" cy="318.91" r="1.1"/>
<circle cx="415.93" cy="317.92" r="1.1"/>
<circle cx="423.44" cy="316.67" r="1.1"/>
<circle cx="430.94" cy="315.01" r="1.1"/>
<circle cx="438.44" cy="312.58" r="1.1"/>
<circle cx="445.95" cy="308.27" r="1.1"/>
<circle cx="78.30" cy="320.30" r="1.1"/>
<circle cx="85.80" cy="320.45" r="1.1"/>
<circle cx="93.31" cy="320.59" r="1.1"/>
<circle cx="100.81" cy="320.72" r="1.1"/>
<circle cx="108.31" cy="320.83" r="1.1"/>
<circle cx="115.82" cy="320.93" r="1.1"/>
<circle cx="123.32" cy="321.02" r="1.1"/>
<circle cx="130.82" cy="321.10" r="1.1"/>
<circle cx="138.32" cy="321.16" r="1.1"/>
<circle cx="145.83" cy="321.22" r="1.1"/>
<circle cx="153.33" cy="321.27" r="1.1"/>
<circle cx="160.83" cy="321.30" r="1.1"/>
<circle cx="168.34" cy="321.33" r="1.1"/>
<circle cx="175.84" cy="321.34" r="1.1"/>
<circle cx="183.34" cy="321.34" r="1.1"/>
<circle cx="190.85" cy="321.34" r="1.1"/>
<circle cx="198.35" cy="321.32" r="1.1"/>
<circle cx="205.85" cy="321.29" r="1.1"/>
<circle cx="213.35" cy="321.25" r="1.1"/>
<circle cx="220.86" cy="321.20" r="1.1"/>
<circle cx="228.36" cy="321.14" r="1.1"/>
<circle cx="235.86" cy="321.06" r="1.1"/>
<circle cx="243.37" cy="320.98" r="1.1"/>
<circle cx="250.87" cy="320.88" r="1.1"/>
<circle cx="258.37" cy="320.76" r="1.1"/>
<circle cx="265.88" cy="320.63" r="1.1"/>
<circle cx="273.38" cy="320.49" r="1.1"/>
<circle cx="280.88" cy="320.33" r="1.1"/>
<circle cx="288.38" cy="320.15" r="1.1"/>
<circle cx="295.89" cy="319.96" r="1.1"/>
<circle cx="303.39" cy="319.74" r="1.1"/>
<circle cx="310.89" cy="319.50" r="1.1"/>
<circle cx="318.40" cy="319.24" r="1.1"/>
<circle cx="325.90" cy="318.95" r="1.1"/>
<circle cx="333.40" cy="318.63" r="1.1"/>
<circle cx="340.91" cy="318.28" r="1.1"/>
<circle cx="348.41" cy="317.89" r="1.1"/>
<circle cx="355.91" cy="317.46" r="1.1"/>
<circle cx="363.41" cy="316.98" r="1.1"/>
<circle cx="370.92" cy="316.44" r="1.1"/>
<circle cx="378.42" cy="315.83" r="1.1"/>
<circle cx="385.92" cy="315.13" r="1.1"/>
<circle cx="393.43" cy="314.33" r="1.1"/>
<circle cx="400.93" cy="313.40" r="1.1"/>
<circle cx="408.43" cy="312.30" r="1.1"/>
<circle cx="415.93" cy="310.95" r="1.1"/>
<circle cx="423.44" cy="309.26" r="1.1"/>
<circle cx="430.94" cy="307.02" r="1.1"/>
<circle cx="438.44" cy="303.76" r="1.1"/>
<circle cx="445.95" cy="297.99" r="1.1"/>
<circle cx="78.30" cy="317.24" r="1.1"/>
<circle cx="85.80" cy="317.36" r="1.1"/>
<circle cx="93.31" cy="317.47" r="1.1"/>
<circle cx="100.81" cy="317.57" r="1.1"/>
<circle cx="108.31" cy="317.65" r="1.1"/>
<circle cx="115.82" cy="317.72" r="1.1"/>
<circle cx="123.32" cy="317.78" r="1.1"/>
<circle cx="130.82" cy="317.82" r="1.1"/>
<circle cx="138.32" cy="317.86" r="1.1"/>
<circle cx="145.83" cy="317.88" r="1.1"/>
<circle cx="153.33" cy="317.89" r="1.1"/>
<circle cx="160.83" cy="317.89" r="1.1"/>
<circle cx="168.34" cy="317.88" r="1.1"/>
<circle cx="175.84" cy="317.85" r="1.1"/>
<circle cx="183.34" cy="317.82" r="1.1"/>
<circle cx="190.85" cy="317.77" r="1.1"/>
<circle cx="198.35" cy="317.71" r="1.1"/>
<circle cx="205.85" cy="317.63" r="1.1"/>
<circle cx="213.35" cy="317.55" r="1.1"/>
<circle cx="220.86" cy="317.45" r="1.1"/>
<circle cx="228.36" cy="317.34" r="1.1"/>
<circle cx="235.86" cy="317.21" r="1.1"/>
<circle cx="243.37" cy="317.07" r="1.1"/>
<circle cx="250.87" cy="316.91" r="1.1"/>
<circle cx="258.37" cy="316.74" r="1.1"/>
<circle cx="265.88" cy="316.55" r="1.1"/>
<circle cx="273.38" cy="316.34" r="1.1"/>
<circle cx="280.88" cy="316.11" r="1.1"/>
<circle cx="288.38" cy="315.86" r="1.1"/>
<circle cx="295.89" cy="315.59" r="1.1"/>
<circle cx="303.39" cy="315.29" r="1.1"/>
<circle cx="310.89" cy="314.97" r="1.1"/>
<circle cx="318.40" cy="314.62" r="1.1"/>
<circle cx="325.90" cy="314.23" r="1.1"/>
<circle cx="333.40" cy="313.81" r="1.1"/>
<circle cx="340.91" cy="313.35" r="1.1"/>
<circle cx="348.41" cy="312.84" r="1.1"/>
<circle cx="355.91" cy="312.28" r="1.1"/>
<circle cx="363.41" cy="311.65" r="1.1"/>
<circle cx="370.92" cy="310.96" r="1.1"/>
<circle cx="378.42" cy="310.17" r="1.1"/>
<circle cx="385.92" cy="309.29" r="1.1"/>
<circle cx="393.43" cy="308.27" r="1.1"/>
<circle cx="400.93" cy="307.08" r="1.1"/>
<circle cx="408.43" cy="305.68" r="1.1"/>
<circle cx="415.93" cy="303.99" r="1.1"/>
<circle cx="423.44" cy="301.85" r="1.1"/>
<circle cx="430.94" cy="299.03" r="1.1"/>
<circle cx="438.44" cy="294.93" r="1.1"/>
<circle cx="445.95" cy="287.71" r="1.1"/>
</g>
<line x1="60" y1="360" x2="464" y2="360" stroke="#a0a0a0" stroke-width="2"/>
<g stroke="#444" stroke-width="1">
<line x1="78.5" y1="361" x2="78.5" y2="364"/>
<line x1="153.5" y1="361" x2="153.5" y2="364"/>
<line x1="228.5" y1="361" x2="228.5" y2="364"/>
<line x1="303.5" y1="361" x2="303.5" y2="364"/>
<line x1="378.5" y1="361" x2="378.5" y2="364"/>
<line x1="453.5" y1="361" x2="453.5" y2="364"/>
</g>
<g font-size="13">
<text x="78.5" y="375.8" text-anchor="middle">0.5</text>
<text x="153.5" y="375.8" text-anchor="middle">0.6</text>
<text x="228.5" y="375.8" text-anchor="middle">0.7</text>
<text x="303.5" y="375.8" text-anchor="middle">0.8</text>
<text x="378.5" y="375.8" text-anchor="middle">0.9</text>
<text x="453.5" y="375.8" text-anchor="middle">1</text>
<text x="57.8" y="350.4" text-anchor="end">0</text>
<text x="57.8" y="295.09999999999997" text-anchor="end">1,000</text>
<text x="57.8" y="239.8" text-anchor="end">2,000</text>
<text x="57.8" y="184.50000000000003" text-anchor="end">3,000</text>
<text x="57.8" y="129.20000000000002" text-anchor="end">4,000</text>
<text x="57.8" y="73.9" text-anchor="end">5,000</text>
</g>
<text y="16" font-size="16.5"><tspan x="60.42" textLength="55.31" lengthAdjust="spacing">noerror</tspan> <tspan x="121.29" textLength="63.89" lengthAdjust="spacing">samples</tspan> <tspan x="189.65" textLength="54.35" lengthAdjust="spacing">needed</tspan> <tspan x="248.79" textLength="17.98" lengthAdjust="spacing">by</tspan> <tspan x="271.42" textLength="59.31" lengthAdjust="spacing">number</tspan> <tspan x="335.93" textLength="16.18" lengthAdjust="spacing">of</tspan> <tspan x="355.53" textLength="29.1" lengthAdjust="spacing">p2o</tspan> <tspan x="388.33" textLength="45.59" lengthAdjust="spacing">errors</tspan></text>
<text y="35.4" font-size="15.5"><tspan x="60.0" textLength="57.02" lengthAdjust="spacing">margins</tspan> <tspan x="121.25" textLength="21.02" lengthAdjust="spacing">.01</tspan> <tspan x="147.36" textLength="25.27" lengthAdjust="spacing">and</tspan> <tspan x="178.06" textLength="21.11" lengthAdjust="spacing">.05</tspan></text>
<text x="231.6" y="393.5" font-size="15.4" textLength="61.6" lengthAdjust="spacing">maxLoss</text>
<text transform="translate(14.6,233.6) rotate(-90)" font-size="15.4" textLength="66.6" lengthAdjust="spacing">nsamples</text>
<text x="472.2" y="63" font-size="15.8" textLength="118" lengthAdjust="spacing">number&amp;margin</text>
<line x1="473" y1="85.2" x2="494.2" y2="85.2" stroke="#E41A1C" stroke-width="1.8"/>
<text x="499.3" y="89.8" font-size="13.2" textLength="41.4" lengthAdjust="spacing">0&amp;0.01</text>
<line x1="473" y1="108.2" x2="494.2" y2="108.2" stroke="#377EB8" stroke-width="1.8"/>
<text x="499.3" y="112.8" font-size="13.2" textLength="41.4" lengthAdjust="spacing">1&amp;0.01</text>
<line x1="473" y1="131.2" x2="494.2" y2="131.2" stroke="#4DAF4A" stroke-width="1.8"/>
<text x="499.3" y="135.79999999999998" font-size="13.2" textLength="41.4" lengthAdjust="spacing">2&amp;0.01</text>
<line x1="473" y1="154.2" x2="494.2" y2="154.2" stroke="#984EA3" stroke-width="1.8"/>
<text x="499.3" y="158.79999999999998" font-size="13.2" textLength="41.4" lengthAdjust="spacing">3&amp;0.01</text>
<line x1="473" y1="177.2" x2="494.2" y2="177.2" stroke="#FF7F00" stroke-width="1.8"/>
<text x="499.3" y="181.79999999999998" font-size="13.2" textLength="41.4" lengthAdjust="spacing">4&amp;0.01</text>
<line x1="473" y1="200.2" x2="494.2" y2="200.2" stroke="#FFFF33" stroke-width="1.8"/>
<text x="499.3" y="204.79999999999998" font-size="13.2" textLength="41.4" lengthAdjust="spacing">5&amp;0.01</text>
<line x1="473" y1="223.2" x2="494.2" y2="223.2" stroke="#A65628" stroke-width="1.8"/>
<text x="499.3" y="227.79999999999998" font-size="13.2" textLength="41.4" lengthAdjust="spacing">0&amp;0.05</text>
<line x1="473" y1="246.2" x2="494.2" y2="246.2" stroke="#F781BF" stroke-width="1.8"/>
<text x="499.3" y="250.79999999999998" font-size="13.2" textLength="41.4" lengthAdjust="spacing">1&amp;0.05</text>
<line x1="473" y1="269.2" x2="494.2" y2="269.2" stroke="#999999" stroke-width="1.8"/>
<text x="499.3" y="273.8" font-size="13.2" textLength="41.4" lengthAdjust="spacing">2&amp;0.05</text>
<line x1="473" y1="292.2" x2="494.2" y2="292.2" stroke="#93C4A9" stroke-width="1.8"/>
<text x="499.3" y="296.8" font-size="13.2" textLength="41.4" lengthAdjust="spacing">3&amp;0.05</text>
<line x1="473" y1="315.2" x2="494.2" y2="315.2" stroke="#D01C6F" stroke-width="1.8"/>
<text x="499.3" y="319.8" font-size="13.2" textLength="41.4" lengthAdjust="spacing">4&amp;0.05</text>
<line x1="473" y1="338.2" x2="494.2" y2="338.2" stroke="#E1600B" stroke-width="1.8"/>
<text x="499.3" y="342.8" font-size="13.2" textLength="41.4" lengthAdjust="spacing">5&amp;0.05</text>
</svg></body></html>
